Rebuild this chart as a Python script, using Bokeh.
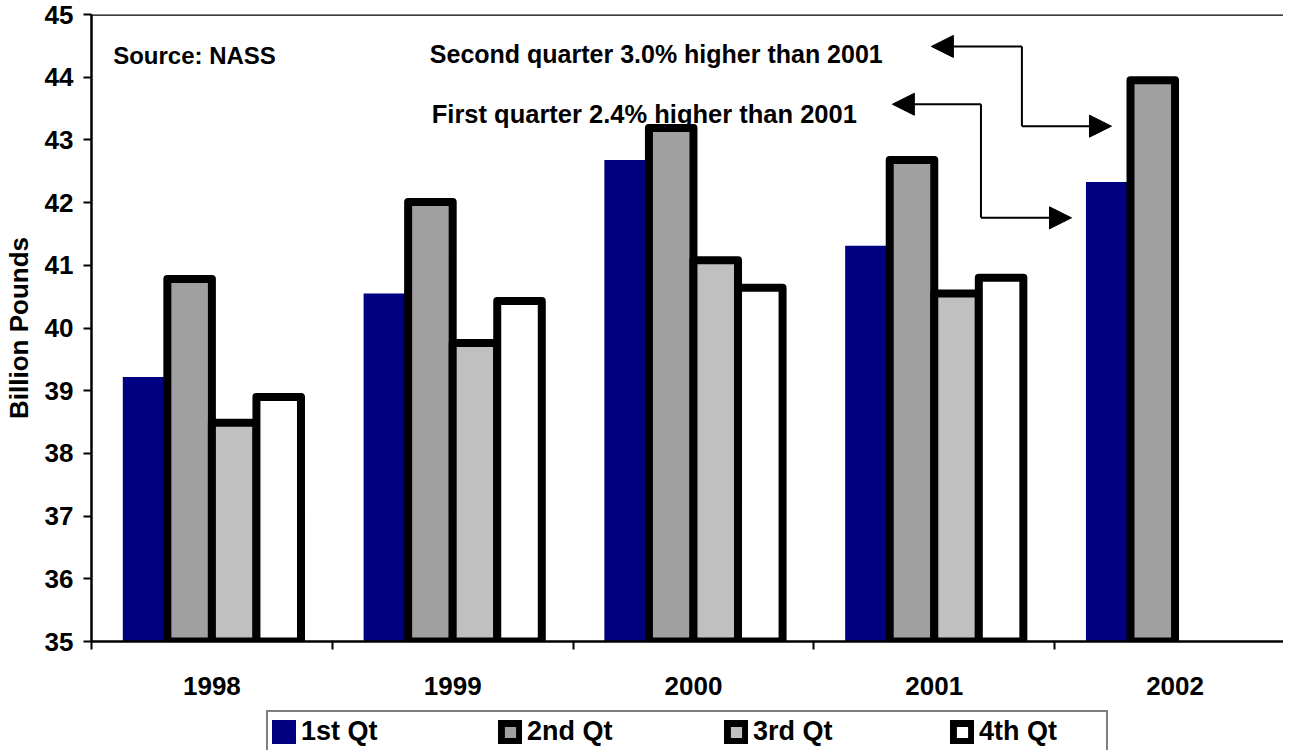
from bokeh.plotting import figure
from bokeh.layouts import column
from bokeh.models import (Range1d, FixedTicker, Legend, LegendItem, Label, Arrow,
                          NormalHead, Span, ColumnDataSource)
from bokeh.transform import dodge
from bokeh.embed import file_html
from bokeh.resources import INLINE

# ---------------- data ----------------
years = [1998, 1999, 2000, 2001, 2002]
q1 = [39.22, 40.55, 42.68, 41.31, 42.33]
q2 = [40.78, 42.01, 43.19, 42.68, 43.95]
years_q34 = [1998, 1999, 2000, 2001]
q3 = [38.49, 39.76, 41.08, 40.55]
q4 = [38.90, 40.43, 40.64, 40.80]
series_labels = ["1st Qt", "2nd Qt", "3rd Qt", "4th Qt"]
y_ticks = [35, 36, 37, 38, 39, 40, 41, 42, 43, 44, 45]
y_label = "Billion Pounds"
source_note = "Source: NASS"
note_q2 = "Second quarter 3.0% higher than 2001"
note_q1 = "First quarter 2.4% higher than 2001"

# ---------------- style ----------------
FONT = "Liberation Sans"
BAR_W = 0.185
COLORS = ["#000080", "#A0A0A0", "#C0C0C0", "#FFFFFF"]
Y_MIN, Y_MAX = 35, 45

def bar_style(i):
    if i == 0:
        return dict(fill_color=COLORS[0], line_color=None)
    return dict(fill_color=COLORS[i], line_color="black", line_width=8, line_join="round")

# ---------------- main chart ----------------
p = figure(width=1283, height=710,
           x_range=Range1d(1997.5, 1997.5 + 1198 / 242),
           y_range=Range1d(Y_MIN, Y_MAX),
           output_backend="svg", toolbar_location=None,
           min_border_left=85, min_border_right=0,
           min_border_top=14, min_border_bottom=69)
p.outline_line_color = None
p.xgrid.visible = False
p.ygrid.visible = False
p.background_fill_color = "white"
p.border_fill_color = "white"

offsets = [-1.5 * BAR_W, -0.5 * BAR_W, 0.5 * BAR_W, 1.5 * BAR_W]
series = [(years, q1), (years, q2), (years_q34, q3), (years_q34, q4)]
for i, (xs, vals) in enumerate(series):
    src = ColumnDataSource(dict(year=xs, value=vals))
    p.vbar(x=dodge("year", offsets[i]), top="value", bottom=Y_MIN,
           width=BAR_W, source=src, **bar_style(i))

# axes
xa = p.xaxis[0]
xa.ticker = FixedTicker(ticks=years, minor_ticks=[y - 0.5 for y in years])
xa.major_tick_line_color = None
xa.major_tick_in = 0
xa.major_tick_out = 0
xa.minor_tick_line_color = "black"
xa.minor_tick_line_width = 2
xa.minor_tick_in = 0
xa.minor_tick_out = 8
xa.axis_line_width = 2.5
xa.axis_line_color = "black"
xa.major_label_standoff = 27
xa.major_label_text_font = FONT
xa.major_label_text_font_size = "26px"
xa.major_label_text_font_style = "bold"
xa.major_label_text_color = "black"

ya = p.yaxis[0]
ya.ticker = FixedTicker(ticks=y_ticks, minor_ticks=[])
ya.major_tick_in = 0
ya.major_tick_out = 8
ya.major_tick_line_width = 2
ya.major_tick_line_color = "black"
ya.axis_line_width = 2.5
ya.axis_line_color = "black"
ya.major_label_standoff = 10
ya.major_label_text_font = FONT
ya.major_label_text_font_size = "26px"
ya.major_label_text_font_style = "bold"
ya.major_label_text_color = "black"
ya.axis_label = y_label
ya.axis_label_standoff = 8
ya.axis_label_text_font = FONT
ya.axis_label_text_font_size = "26px"
ya.axis_label_text_font_style = "bold"
ya.axis_label_text_color = "black"

# top border of plot area
p.add_layout(Span(location=Y_MAX, dimension="width", line_color="black", line_width=2.5))

# annotations
TXT = dict(text_font=FONT, text_font_style="bold",
           text_color="black", text_baseline="alphabetic", text_align="left")
p.add_layout(Label(x=1997.59, y=44.35, text=source_note, text_font_size="24px", **TXT))
p.add_layout(Label(x=1998.905, y=44.364, text=note_q2, text_font_size="25px", **TXT))
p.add_layout(Label(x=1998.913, y=43.410, text=note_q1, text_font_size="25.5px", **TXT))

connectors = [
    dict(x_tip_l=2000.988, x_elbow=2001.364, x_tip_r=2001.736, y_top=44.491, y_bot=43.219),
    dict(x_tip_l=2000.826, x_elbow=2001.194, x_tip_r=2001.570, y_top=43.569, y_bot=41.757),
]
for c in connectors:
    p.add_layout(Arrow(x_start=c["x_elbow"], y_start=c["y_top"], x_end=c["x_tip_l"], y_end=c["y_top"],
                       line_width=2, line_color="black",
                       end=NormalHead(size=22, fill_color="black", line_color="black")))
    p.add_layout(Arrow(x_start=c["x_elbow"], y_start=c["y_top"], x_end=c["x_elbow"], y_end=c["y_bot"],
                       line_width=2, line_color="black", end=None))
    p.add_layout(Arrow(x_start=c["x_elbow"], y_start=c["y_bot"], x_end=c["x_tip_r"], y_end=c["y_bot"],
                       line_width=2, line_color="black",
                       end=NormalHead(size=22, fill_color="black", line_color="black")))

# ---------------- legend strip ----------------
lg = figure(width=1283, height=40, x_range=Range1d(0, 1), y_range=Range1d(0, 1),
            output_backend="svg", toolbar_location=None,
            min_border_left=85, min_border_right=0, min_border_top=0, min_border_bottom=0)
lg.axis.visible = False
lg.xgrid.visible = False
lg.ygrid.visible = False
lg.outline_line_color = None
lg.background_fill_color = "white"
lg.border_fill_color = "white"

# legend keys: one bar per series, placed below the strip's visible range
keys = []
for i in range(4):
    st = bar_style(i)
    if i == 0:
        st = dict(fill_color=COLORS[0], line_color=COLORS[0], line_width=8, line_join="round")
    keys.append(lg.vbar(x=[0.5], top=[-8], bottom=-9, width=0.05, **st))

legend = Legend(
    items=[LegendItem(label=lab, renderers=[r]) for lab, r in zip(series_labels, keys)],
    orientation="horizontal", location=(175, -3),
    glyph_width=24, glyph_height=24, label_standoff=5,
    label_width=123, label_height=20, spacing=74, padding=4, margin=0,
    border_line_color="black", border_line_width=2,
    background_fill_color="white", background_fill_alpha=1.0,
    label_text_font=FONT, label_text_font_size="27px",
    label_text_font_style="bold", label_text_color="black")
lg.add_layout(legend)

layout = column(p, lg, spacing=0)
open("out.html", "w").write(file_html(layout, INLINE))
